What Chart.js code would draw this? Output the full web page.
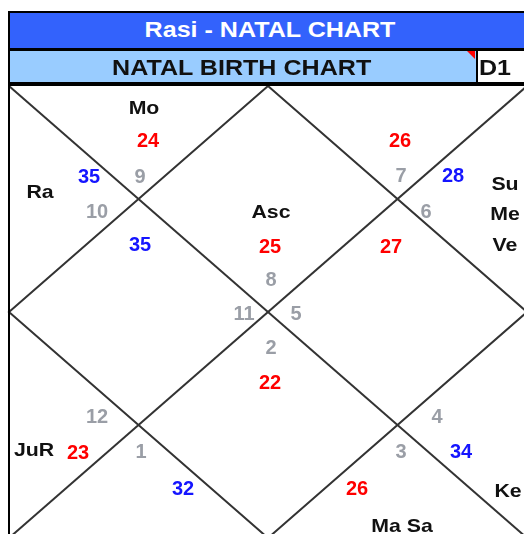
<!DOCTYPE html>
<html>
<head>
<meta charset="utf-8">
<script src="https://cdn.jsdelivr.net/npm/chart.js@4"></script>
<style>
  html, body { margin: 0; padding: 0; background: #fff; overflow: hidden; }
  #wrap { position: relative; width: 524px; height: 534px; }
  #chart { position: absolute; left: 0; top: 0; }
  .bar { position: absolute; font-family: 'Liberation Sans', Arial, sans-serif; font-weight: bold; font-size: 22px; }
  .bar span { display: inline-block; transform: scaleX(1.14); }
  .blk { position: absolute; background: #000; }
</style>
</head>
<body>
<div id="wrap">
  <canvas id="chart" width="524" height="534"></canvas>
  <div class="blk" style="left:8px;top:11px;width:520px;height:2px"></div>
  <div class="bar" style="left:8px;top:13px;width:524px;height:35px;line-height:34px;background:#3362fc;color:#fff;text-align:center"><span>Rasi - NATAL CHART</span></div>
  <div class="blk" style="left:8px;top:48px;width:520px;height:3px"></div>
  <div class="bar" style="left:8px;top:51px;width:468px;height:31px;line-height:34px;background:#99ccff;color:#111;text-align:center"><span>NATAL BIRTH CHART</span></div>
  <div style="position:absolute;left:467px;top:51px;width:0;height:0;border-top:8px solid #ff0000;border-left:8px solid transparent"></div>
  <div class="blk" style="left:476px;top:51px;width:2px;height:31px"></div>
  <div class="bar" style="left:478px;top:51px;width:50px;height:31px;line-height:34px;background:#fff;color:#111;padding-left:1px"><span style="transform-origin:left">D1</span></div>
  <div class="blk" style="left:8px;top:82px;width:520px;height:4px"></div>
  <div class="blk" style="left:8px;top:11px;width:2px;height:523px"></div>
</div>
<script>
// houses 1..12 (North Indian layout, counted anticlockwise from the top diamond)
const signs = [8, 9, 10, 11, 12, 1, 2, 3, 4, 5, 6, 7];
const savPoints = [25, 24, 35, 35, 23, 32, 22, 26, 34, 27, 28, 26];
const planets = [['Asc'], ['Mo'], ['Ra'], [], ['JuR'], [], [], ['Ma', 'Sa'], ['Ke'], [], ['Su', 'Me', 'Ve'], []];

// chart box size in px-like units
const W = 518, H = 452;

// where each house writes its sign, points and planets
const slots = [
  { sign: [262, 193], pts: [261, 160], pl: [262, 125] },
  { sign: [131, 90],  pts: [139, 54],  pl: [135, 21] },
  { sign: [88, 125],  pts: [80, 90],   pl: [31, 105] },
  { sign: [235, 227], pts: [131, 158], pl: [131, 120] },
  { sign: [88, 330],  pts: [69, 366],  pl: [25, 363] },
  { sign: [132, 365], pts: [174, 402], pl: [135, 439] },
  { sign: [262, 261], pts: [261, 296], pl: [262, 330] },
  { sign: [392, 365], pts: [348, 402], pl: [393, 439] },
  { sign: [428, 330], pts: [452, 365], pl: [499, 404] },
  { sign: [287, 227], pts: [382, 160], pl: [382, 120] },
  { sign: [417, 125], pts: [444, 89],  pl: [496, 97], col: true },
  { sign: [392, 89],  pts: [391, 54],  pl: [391, 21] }
];

const FONT = "'Liberation Sans', Arial, sans-serif";

function drawText(ctx, str, px, py, color, size, stretch) {
  ctx.save();
  ctx.font = 'bold ' + size + 'px ' + FONT;
  ctx.fillStyle = color;
  ctx.textAlign = 'center';
  ctx.textBaseline = 'alphabetic';
  ctx.translate(px, py + size * 0.358);
  ctx.scale(stretch, 1);
  ctx.fillText(String(str), 0, 0);
  ctx.restore();
}

const houseLabels = {
  id: 'houseLabels',
  afterDatasetsDraw(chart) {
    const ctx = chart.ctx;
    const x = chart.scales.x, y = chart.scales.y;
    slots.forEach(function(s, i) {
      drawText(ctx, signs[i], x.getPixelForValue(s.sign[0]), y.getPixelForValue(s.sign[1]), '#9a9ea6', 20, 1.0);
      drawText(ctx, savPoints[i], x.getPixelForValue(s.pts[0]), y.getPixelForValue(s.pts[1]),
        savPoints[i] >= 28 ? '#1515ff' : '#ff0000', 20, 1.0);
      const list = planets[i];
      if (!list.length) return;
      if (s.col) {
        list.forEach(function(p, k) {
          drawText(ctx, p, x.getPixelForValue(s.pl[0]), y.getPixelForValue(s.pl[1] + k * 30.5), '#111', 19, 1.12);
        });
      } else {
        drawText(ctx, list.join(' '), x.getPixelForValue(s.pl[0]), y.getPixelForValue(s.pl[1]), '#111', 19, 1.12);
      }
    });
  }
};

const lineStyle = { showLine: true, borderColor: '#333333', borderWidth: 2, pointRadius: 0, clip: false };

new Chart(document.getElementById('chart'), {
  type: 'scatter',
  data: {
    datasets: [
      Object.assign({ data: [{x: W / 2, y: 0}, {x: W, y: H / 2}, {x: W / 2, y: H}, {x: 0, y: H / 2}, {x: W / 2, y: 0}] }, lineStyle),
      Object.assign({ data: [{x: 0, y: 0}, {x: W, y: H}] }, lineStyle),
      Object.assign({ data: [{x: W, y: 0}, {x: 0, y: H}] }, lineStyle)
    ]
  },
  options: {
    responsive: false,
    animation: false,
    devicePixelRatio: 1,
    layout: { padding: { left: 9, top: 86, right: 0, bottom: 0 } },
    plugins: { legend: { display: false }, tooltip: { enabled: false } },
    scales: {
      x: { type: 'linear', min: 0, max: 515, display: false },
      y: { type: 'linear', min: 0, max: 448, reverse: true, display: false }
    }
  },
  plugins: [houseLabels]
});
</script>
</body>
</html>
